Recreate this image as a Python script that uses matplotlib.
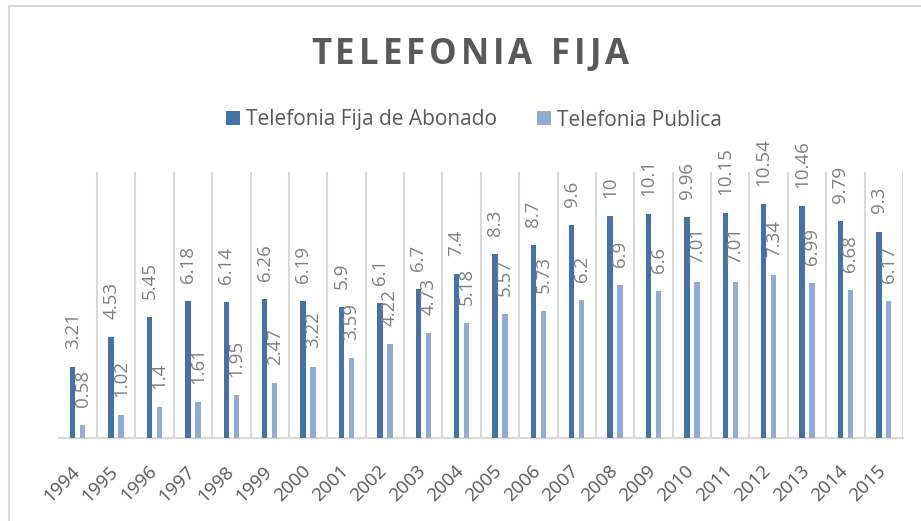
import numpy as np
import matplotlib
matplotlib.use('Agg')
import matplotlib.pyplot as plt
import matplotlib.transforms as mtransforms
from matplotlib.lines import Line2D

years = [str(y) for y in range(1994, 2016)]
abonado = [3.21, 4.53, 5.45, 6.18, 6.14, 6.26, 6.19, 5.9, 6.1, 6.7, 7.4,
           8.3, 8.7, 9.6, 10, 10.1, 9.96, 10.15, 10.54, 10.46, 9.79, 9.3]
publica = [0.58, 1.02, 1.4, 1.61, 1.95, 2.47, 3.22, 3.59, 4.22, 4.73, 5.18,
           5.57, 5.73, 6.2, 6.9, 6.6, 7.01, 7.01, 7.34, 6.99, 6.68, 6.17]
series_names = ['Telefonia Fija de Abonado', 'Telefonia Publica']
title = 'TELEFONIA FIJA'

dark = '#4571A9'
light = '#93AAD4'
grid_c = '#d9d9d9'
text_c = '#595959'
label_c = '#808080'
font = 'Open Sans'

W, H = 921, 521
fig = plt.figure(figsize=(W / 100, H / 100), dpi=100)
fig.patch.set_facecolor('white')

# chart frame (top and left edges visible)
fig.add_artist(Line2D([9/W, 1], [1 - 6/H, 1 - 6/H], color=grid_c, lw=1.5))
fig.add_artist(Line2D([9/W, 9/W], [0, 1 - 6/H], color=grid_c, lw=1.5))

ax = fig.add_axes([58.6/W, 1 - 438/H, (903 - 58.6)/W, (438 - 171.6)/H])
ax.set_facecolor('white')

x = np.arange(len(years))
bw = 0.14
off = 0.13
b1 = ax.bar(x - off, abonado, bw, color=dark, label=series_names[0], zorder=3)
b2 = ax.bar(x + off, publica, bw, color=light, label=series_names[1], zorder=3)

for bars, vals in ((b1, abonado), (b2, publica)):
    for r, v in zip(bars, vals):
        ax.annotate('%g' % v, (r.get_x() + r.get_width() / 2, r.get_height()),
                    xytext=(0, 13), textcoords='offset points', rotation=90,
                    ha='center', va='bottom', fontsize=13.5, color=label_c,
                    family=font)

# vertical gridlines between categories
for b in np.arange(0.5, len(years), 1.0):
    ax.axvline(b, color=grid_c, lw=1.5, zorder=1)

ax.set_xlim(-0.5, len(years) - 0.5)
ax.set_ylim(0, 12)
ax.set_yticks([])
for s in ('top', 'left', 'right'):
    ax.spines[s].set_visible(False)
ax.spines['bottom'].set_color(grid_c)
ax.spines['bottom'].set_linewidth(1.5)
ax.set_xticks(x)
ax.set_xticklabels(years, rotation=45, ha='right', va='top',
                   rotation_mode='anchor', fontsize=13.5, color=text_c,
                   family=font)
ax.tick_params(axis='x', length=0, pad=16)
shift = mtransforms.ScaledTranslation(-7/100, -2/100, fig.dpi_scale_trans)
for lab in ax.get_xticklabels():
    lab.set_transform(lab.get_transform() + shift)

# title with letter spacing, one char at a time
renderer = fig.canvas.get_renderer()
tkw = dict(fontsize=25, fontweight='bold', color=text_c, family=font,
           va='center', ha='left')
widths = []
for c in title:
    t = fig.text(0, 0, c if c != ' ' else 'I', **tkw)
    w = t.get_window_extent(renderer).width
    if c == ' ':
        w = w * 0.9
    widths.append(w)
    t.remove()
gap = 4.0
total = sum(widths) + gap * (len(title) - 1)
xpos = 470 - total / 2
for c, w in zip(title, widths):
    if c != ' ':
        fig.text(xpos / W, 1 - 55/H, c, **tkw)
    xpos += w + gap

leg = fig.legend(handles=[b1, b2], labels=series_names, loc='center',
                 bbox_to_anchor=(474/W, 1 - 120/H), ncol=2, frameon=False,
                 handlelength=0.67, handleheight=0.67, handletextpad=0.3,
                 columnspacing=1.9, prop={'family': font, 'size': 15})
for t in leg.get_texts():
    t.set_color(text_c)

fig.savefig('out.png', dpi=100)
